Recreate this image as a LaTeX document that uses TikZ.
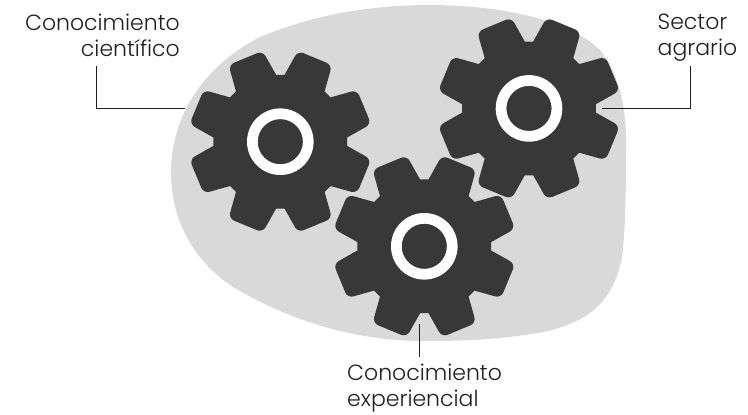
\documentclass[tikz,border=0pt]{standalone}
\usepackage{fontspec}
\setmainfont{Poppins}[UprightFont=* Light]
\definecolor{blob}{HTML}{D9D9D9}
\definecolor{gearc}{HTML}{383838}
\definecolor{ink}{HTML}{1E1E1E}
\newcommand{\gearshape}[2]{%
  \begin{scope}[shift={(#1,#2)}]
    \fill[gearc] (3.6:67)
      \foreach \a in {0,45,...,315} {
        [rounded corners=6pt] -- (\a+11:92.5) -- (\a+34:92.5)
        [sharp corners] -- (\a+41.4:67) -- (\a+48.6:67)
      } -- cycle;
    \fill[white,even odd rule] (0,0) circle (33.3) (0,0) circle (22.6);
  \end{scope}}
\tikzset{
  lbl/.style={inner sep=0pt,font=\fontsize{22}{26.7}\selectfont,text=ink},
  lblb/.style={inner sep=0pt,font=\fontsize{22}{26}\selectfont,text=ink},
  leader/.style={draw=ink,line width=0.9pt}
}
\begin{document}
\begin{tikzpicture}[x=1pt,y=-1pt]
\useasboundingbox (0,0) rectangle (748,415);
\fill[blob] (430,5)
  .. controls (500,5) and (570,20) .. (600,50)
  .. controls (618,72) and (626,105) .. (626,140)
  .. controls (626,180) and (626,225) .. (622,257)
  .. controls (614,300) and (590,322) .. (543,332)
  .. controls (505,339) and (470,341) .. (425,341)
  .. controls (350,341) and (285,318) .. (233,287)
  .. controls (195,262) and (171,222) .. (171,172)
  .. controls (171,115) and (205,65) .. (260,37)
  .. controls (320,12) and (380,5) .. (430,5) -- cycle;
\gearshape{280.3}{141.7}
\gearshape{529}{108.4}
\gearshape{424.3}{246.3}
\node[lbl,align=right,anchor=north east] (cc) at (180,13.5) {Conocimiento\\científico};
\node[lbl,align=left,anchor=north west] (sa) at (657.5,13.5) {Sector\\agrario};
\node[lblb,align=left,anchor=north west] (ce) at (347,363.5) {Conocimiento\\experiencial};
\coordinate (g1) at (185,108.3);
\coordinate (g2) at (601.7,108.3);
\coordinate (g3) at (419.4,324);
\coordinate (c1) at (96.8,66);
\coordinate (c2) at (690.3,66);
\coordinate (c3) at (419.4,356.7);
\draw[leader] (c1) |- (g1);
\draw[leader] (c2) |- (g2);
\draw[leader] (g3) -- (c3);
\end{tikzpicture}
\end{document}
